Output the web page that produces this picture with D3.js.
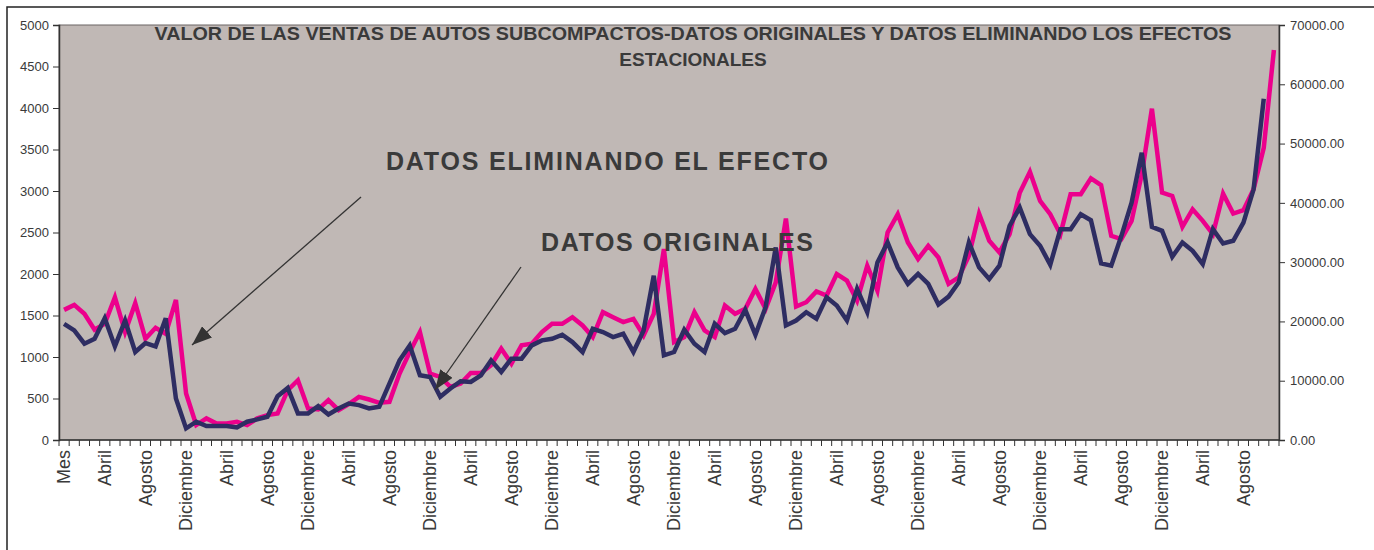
<!DOCTYPE html>
<html>
<head>
<meta charset="utf-8">
<script src="https://cdn.jsdelivr.net/npm/d3@7"></script>
<style>
  body { margin: 0; background: #fff; }
  svg { display: block; font-family: Arial, "Liberation Sans", sans-serif; }
</style>
</head>
<body>
<div id="chart-area"></div>
<script>
// month names used for the category axis
var meses = ["Enero", "Febrero", "Marzo", "Abril", "Mayo", "Junio", "Julio",
             "Agosto", "Septiembre", "Octubre", "Noviembre", "Diciembre"];
var numMeses = 119;

// left axis ticks / right axis ticks
var leftTicks = [0, 500, 1000, 1500, 2000, 2500, 3000, 3500, 4000, 4500, 5000];
var rightTicks = [0, 10000, 20000, 30000, 40000, 50000, 60000, 70000];

// datos eliminando el efecto estacional (left axis)
var sinEfecto = [1568, 1628, 1520, 1328, 1400, 1720, 1300, 1648, 1220, 1352,
                 1280, 1688, 560, 180, 260, 200, 200, 220, 180, 260,
                 300, 320, 600, 720, 380, 368, 480, 360, 432, 520,
                 488, 448, 460, 800, 1060, 1300, 800, 760, 640, 680,
                 808, 808, 900, 1100, 920, 1140, 1160, 1300, 1400, 1400,
                 1480, 1380, 1240, 1540, 1480, 1420, 1460, 1260, 1520, 2300,
                 1180, 1240, 1540, 1320, 1240, 1620, 1520, 1580, 1820, 1580,
                 1900, 2668, 1608, 1660, 1790, 1740, 2000, 1920, 1680, 2100,
                 1800, 2500, 2720, 2380, 2180, 2340, 2200, 1880, 1960, 2220,
                 2728, 2400, 2260, 2480, 2980, 3232, 2880, 2720, 2480, 2960,
                 2960, 3152, 3072, 2460, 2420, 2640, 3200, 3992, 2980, 2940,
                 2568, 2780, 2640, 2480, 2968, 2728, 2768, 3020, 3520, 4700];

// datos originales (right axis)
var originales = [19600, 18480, 16240, 17080, 20550, 15790, 20160, 14840, 16350, 15790,
                  20550, 7000, 1960, 3080, 2350, 2350, 2350, 2130, 3080, 3470,
                  3920, 7390, 8790, 4480, 4480, 5710, 4310, 5320, 6160, 5880,
                  5320, 5600, 9520, 13440, 15960, 10920, 10640, 7280, 8680, 9910,
                  9800, 10920, 13440, 11480, 13720, 13720, 15960, 16800, 17080, 17750,
                  16520, 14840, 18760, 18200, 17360, 17920, 14840, 18480, 27720, 14280,
                  14840, 18590, 16240, 14840, 19600, 18030, 18760, 21950, 17750, 22400,
                  32480, 19320, 20160, 21560, 20440, 24080, 22680, 20160, 25480, 21560,
                  29960, 33320, 29120, 26320, 28000, 26320, 22850, 24190, 26600, 33320,
                  29120, 27160, 29400, 36120, 39200, 34720, 32760, 29570, 35560, 35560,
                  38080, 37070, 29790, 29400, 34440, 40040, 48440, 35950, 35280, 30910,
                  33320, 31920, 29680, 35560, 33150, 33600, 36680, 42280, 57570];

var categorias = ["Mes"];
for (var m = 0; m < numMeses; m++) {
    categorias.push(meses[m % 12]);
}

var width = 1374, height = 550;
var plot = {left: 59, right: 1279, top: 25, bottom: 440};
var textColor = "#3a3a3a";

var svg = d3.select("#chart-area").append("svg")
    .attr("width", width)
    .attr("height", height);

// outer chart frame
svg.append("rect")
    .attr("x", 7).attr("y", 7)
    .attr("width", 1420).attr("height", 620)
    .attr("fill", "#fff")
    .attr("stroke", "#222")
    .attr("stroke-width", 1.5);

// plot area
svg.append("rect")
    .attr("x", plot.left).attr("y", plot.top)
    .attr("width", plot.right - plot.left)
    .attr("height", plot.bottom - plot.top)
    .attr("fill", "#c0b8b5")
    .attr("stroke", "#6a6464")
    .attr("stroke-width", 1);

// scales
var x = d3.scaleBand()
    .domain(d3.range(categorias.length))
    .range([plot.left, plot.right]);
var yLeft = d3.scaleLinear().domain([0, 5000]).range([plot.bottom, plot.top]);
var yRight = d3.scaleLinear().domain([0, 70000]).range([plot.bottom, plot.top]);

function cx(i) { return x(i) + x.bandwidth() / 2; }

// left axis
var leftAxis = svg.append("g")
    .attr("transform", "translate(" + plot.left + ",0)")
    .call(d3.axisLeft(yLeft).tickValues(leftTicks).tickSize(6).tickPadding(4)
        .tickFormat(d3.format("d")));
leftAxis.select(".domain").attr("stroke", "#333").attr("stroke-width", 1.5);
leftAxis.selectAll(".tick line").attr("stroke", "#333");
leftAxis.selectAll("text")
    .attr("font-size", 13)
    .attr("font-family", "Arial, 'Liberation Sans', sans-serif")
    .attr("fill", textColor);

// right axis
var rightAxis = svg.append("g")
    .attr("transform", "translate(" + plot.right + ",0)")
    .call(d3.axisRight(yRight).tickValues(rightTicks).tickSize(6).tickPadding(5)
        .tickFormat(d3.format(".2f")));
rightAxis.select(".domain").attr("stroke", "#333").attr("stroke-width", 1.5);
rightAxis.selectAll(".tick line").attr("stroke", "#333");
rightAxis.selectAll("text")
    .attr("font-size", 13)
    .attr("font-family", "Arial, 'Liberation Sans', sans-serif")
    .attr("fill", textColor);

// category axis: tick at every category boundary, label every 4th
var bottomAxis = svg.append("g")
    .attr("transform", "translate(0," + plot.bottom + ")");
bottomAxis.append("line")
    .attr("x1", plot.left).attr("x2", plot.right)
    .attr("stroke", "#333").attr("stroke-width", 1.5);
bottomAxis.selectAll(".tk")
    .data(d3.range(categorias.length + 1))
    .enter()
    .append("line")
        .attr("class", "tk")
        .attr("x1", function(d){ return plot.left + d * x.step(); })
        .attr("x2", function(d){ return plot.left + d * x.step(); })
        .attr("y1", 0).attr("y2", 6)
        .attr("stroke", "#333");
bottomAxis.selectAll(".lbl")
    .data(d3.range(categorias.length).filter(function(i){ return i % 4 === 0; }))
    .enter()
    .append("text")
        .attr("class", "lbl")
        .attr("transform", function(i){
            return "translate(" + cx(i) + ",10) rotate(-90)";
        })
        .attr("dy", "0.35em")
        .attr("text-anchor", "end")
        .attr("font-size", 18)
        .attr("fill", textColor)
        .text(function(i){ return categorias[i]; });

// lines
var lineLeft = d3.line()
    .x(function(d, i){ return cx(i); })
    .y(function(d){ return yLeft(d); });
var lineRight = d3.line()
    .x(function(d, i){ return cx(i); })
    .y(function(d){ return yRight(d); });

svg.append("path")
    .datum(sinEfecto)
    .attr("d", lineLeft)
    .attr("fill", "none")
    .attr("stroke", "#ec008c")
    .attr("stroke-width", 4.5);

svg.append("path")
    .datum(originales)
    .attr("d", lineRight)
    .attr("fill", "none")
    .attr("stroke", "#2e2d62")
    .attr("stroke-width", 4.5);

// title
var title = svg.append("g")
    .attr("font-weight", "bold")
    .attr("font-size", 19)
    .attr("fill", textColor)
    .attr("text-anchor", "middle");
title.append("text")
    .attr("x", 693).attr("y", 40)
    .attr("textLength", 1077)
    .attr("lengthAdjust", "spacingAndGlyphs")
    .text("VALOR DE LAS VENTAS DE AUTOS SUBCOMPACTOS-DATOS ORIGINALES Y DATOS ELIMINANDO LOS EFECTOS");
title.append("text")
    .attr("x", 693).attr("y", 66)
    .text("ESTACIONALES");

// annotations with arrows
svg.append("defs").append("marker")
    .attr("id", "head")
    .attr("viewBox", "0 0 10 10")
    .attr("refX", 10).attr("refY", 5)
    .attr("markerWidth", 20).attr("markerHeight", 15)
    .attr("markerUnits", "userSpaceOnUse")
    .attr("orient", "auto")
    .attr("preserveAspectRatio", "none")
  .append("path")
    .attr("d", "M0,0 L10,5 L0,10 z")
    .attr("fill", "#333");

var notas = [
    {text: "DATOS ELIMINANDO EL EFECTO", x: 386, y: 170, len: 442, from: [361, 197], to: [192, 345]},
    {text: "DATOS ORIGINALES", x: 541, y: 251, len: 272, from: [521, 267], to: [435, 390]}
];
notas.forEach(function(n){
    svg.append("text")
        .attr("x", n.x).attr("y", n.y)
        .attr("font-size", 25)
        .attr("font-weight", "bold")
        .attr("fill", textColor)
        .attr("textLength", n.len)
        .attr("lengthAdjust", "spacing")
        .text(n.text);
    svg.append("line")
        .attr("x1", n.from[0]).attr("y1", n.from[1])
        .attr("x2", n.to[0]).attr("y2", n.to[1])
        .attr("stroke", "#333")
        .attr("stroke-width", 1.3)
        .attr("marker-end", "url(#head)");
});
</script>
</body>
</html>
